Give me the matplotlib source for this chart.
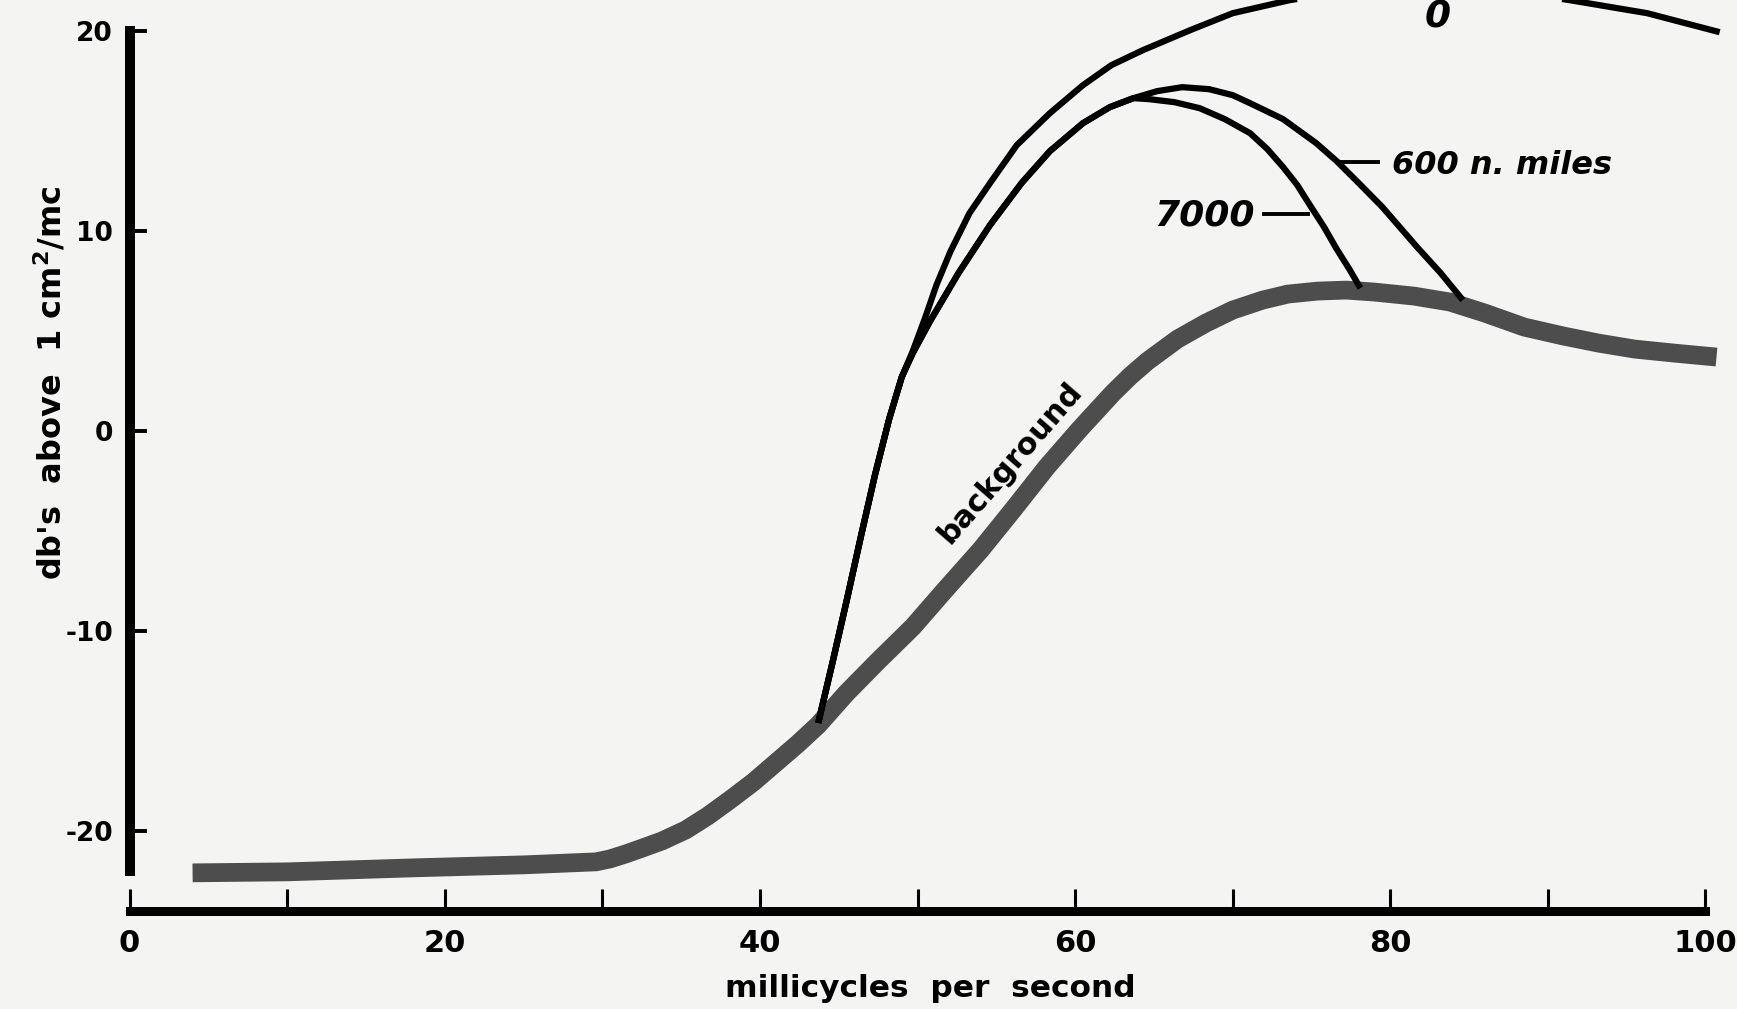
import matplotlib
matplotlib.use("Agg")
import matplotlib.pyplot as plt

plt.rcParams['font.family'] = ['DejaVu Sans']
plt.rcParams['axes.unicode_minus'] = False

# background noise spectrum (thick grey band)
bg_x = [4, 10, 18, 25, 29.6, 30.5, 31.5, 32.4, 33.8, 35.3, 36.7, 38.1, 39.6, 41.0,
        42.4, 43.7, 45.5, 47.5, 49.7, 51.8, 54.0, 56.1, 58.2, 60.3, 62.4, 63.5,
        64.6, 66.5, 68.3, 70, 71.9, 73.5, 75.4, 77.2, 79.0, 81.5, 83.8, 86, 88.5,
        91, 93.2, 95.5, 98.0, 100.7]
bg_y = [-22.1, -22.05, -21.85, -21.7, -21.55, -21.4, -21.15, -20.9, -20.5, -19.95,
        -19.25, -18.45, -17.55, -16.6, -15.65, -14.7, -13.1, -11.5, -9.8, -7.9,
        -5.95, -3.9, -1.8, 0.1, 1.9, 2.75, 3.5, 4.6, 5.4, 6.05, 6.55, 6.85, 7.0,
        7.05, 6.95, 6.75, 6.45, 5.9, 5.2, 4.75, 4.4, 4.1, 3.9, 3.7]

# signal at 0 n. miles
d0_x = [43.7, 44.6, 45.5, 46.4, 47.3, 48.2, 49.0, 49.7, 50.5, 51.2, 52.1, 53.3,
        54.6, 56.3, 58.4, 60.5, 62.3, 64.3, 67.3, 70, 73.6, 78, 82, 86, 91.4,
        96.3, 100.9]
d0_y = [-14.6, -11.6, -8.5, -5.3, -2.2, 0.6, 2.7, 4.0, 5.7, 7.3, 9.0, 10.9, 12.4,
        14.3, 15.9, 17.3, 18.3, 19.05, 20.05, 20.9, 21.55, 22.1, 22.3, 22.2,
        21.55, 20.9, 19.95]

# shared rising part of the 600 and 7000 curves
rise_x = [43.7, 44.6, 45.5, 46.4, 47.3, 48.2, 49.0, 49.7, 50.8, 51.7, 52.6, 53.6,
          54.6, 56.6, 58.4, 60.5, 62.2, 63.7]
rise_y = [-14.6, -11.6, -8.5, -5.3, -2.2, 0.6, 2.7, 3.9, 5.5, 6.7, 7.9, 9.1,
          10.3, 12.4, 14.0, 15.4, 16.2, 16.65]

d600_x = rise_x + [65.2, 66.8, 68.5, 70.0, 71.1, 73.2, 75.3, 76.6, 78.0, 79.5,
                   81.7, 83.2, 84.6]
d600_y = rise_y + [17.0, 17.2, 17.1, 16.8, 16.4, 15.6, 14.4, 13.5, 12.4, 11.2,
                   9.2, 7.9, 6.55]

d7000_x = rise_x + [64.7, 66.3, 67.9, 69.5, 71.1, 72.2, 73.2, 74.1, 74.9, 75.8,
                    76.6, 77.4, 78.1]
d7000_y = rise_y + [16.6, 16.45, 16.15, 15.6, 14.9, 14.1, 13.2, 12.3, 11.3, 10.2,
                    9.1, 8.1, 7.15]

x_ticks = [0, 10, 20, 30, 40, 50, 60, 70, 80, 90, 100]
x_labels = ['0', '', '20', '', '40', '', '60', '', '80', '', '100']
y_ticks = [-20, -10, 0, 10, 20]

paper = '#f4f4f2'
fig = plt.figure(figsize=(17.37, 10.09), dpi=100, facecolor=paper)
ax = fig.add_axes([0, 0, 1, 1], facecolor=paper)
ax.set_xlim(-8.22, 102.0)
ax.set_ylim(-28.91, 21.56)

ax.plot(bg_x, bg_y, color='#4d4d4d', lw=13.5, solid_capstyle='butt',
        solid_joinstyle='round')
for xs, ys in [(d0_x, d0_y), (d600_x, d600_y), (d7000_x, d7000_y)]:
    ax.plot(xs, ys, color='black', lw=4.5, solid_capstyle='butt',
            solid_joinstyle='round')

# axes drawn as detached spines
for s in ['top', 'right']:
    ax.spines[s].set_visible(False)
ax.spines['left'].set_position(('data', 0))
ax.spines['left'].set_bounds(-22, 20)
ax.spines['left'].set_linewidth(7.2)
ax.spines['bottom'].set_position(('data', -24))
ax.spines['bottom'].set_bounds(0, 100)
ax.spines['bottom'].set_linewidth(6.5)

ax.set_xticks(x_ticks)
ax.set_xticklabels(x_labels)
ax.set_yticks(y_ticks)
ax.tick_params(axis='x', direction='in', length=16, width=2.2, pad=13,
               labelsize=22)
ax.tick_params(axis='y', direction='in', length=12, width=2.8, pad=12,
               labelsize=19)
for lab in ax.get_xticklabels() + ax.get_yticklabels():
    lab.set_fontweight('bold')

ax.text(50.8, -27.9, "millicycles  per  second", ha='center', va='center',
        fontsize=22.5, fontweight='bold')
ax.text(-5.0, 2.4, r"db's  above  1 cm$^{\mathbf{2}}$/mc", ha='center',
        va='center', rotation=90, fontsize=23, fontweight='bold')

# curve labels
ax.text(83.0, 20.7, "0", ha='center', va='center', fontsize=27,
        fontweight='bold', style='italic')
ax.plot([76.9, 79.2], [13.45, 13.45], color='black', lw=2.8)
ax.text(80.1, 13.3, "600 n. miles", ha='left', va='center', fontsize=23,
        fontweight='bold', style='italic')
ax.plot([72.0, 74.8], [10.85, 10.85], color='black', lw=2.8)
ax.text(71.4, 10.8, "7000", ha='right', va='center', fontsize=26,
        fontweight='bold', style='italic')
ax.text(55.9, -1.6, "background", ha='center', va='center', rotation=49,
        rotation_mode='anchor', fontsize=22, fontweight='bold')

fig.savefig("out.png", dpi=100, facecolor=paper)
